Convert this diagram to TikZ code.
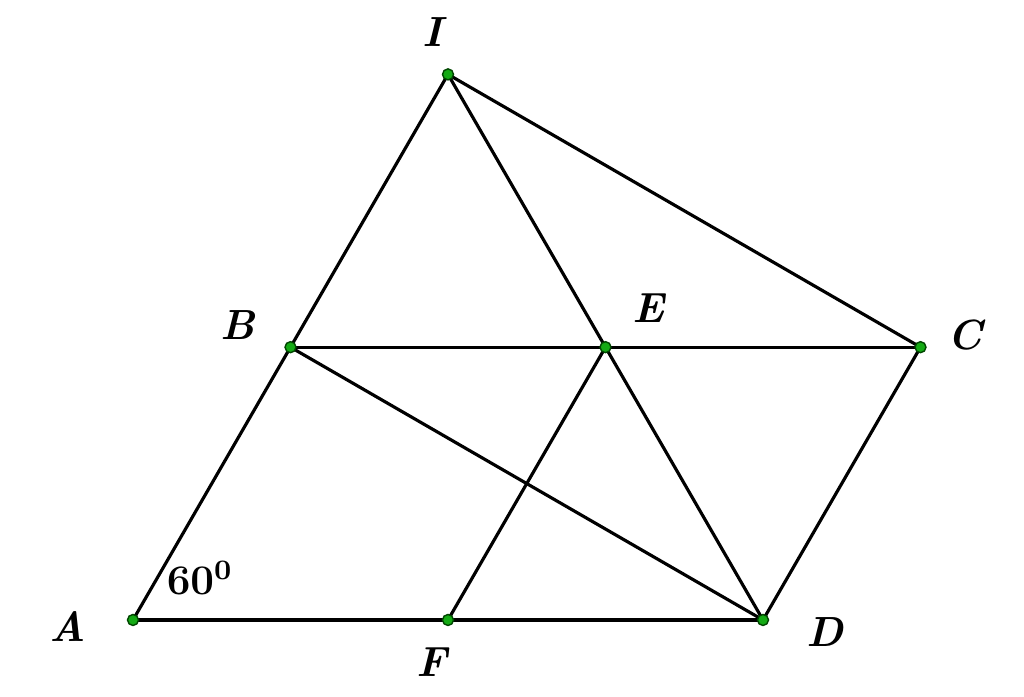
\documentclass[tikz,border=0pt]{standalone}
\usepackage{amsmath}
\usepackage{tikz}
\usetikzlibrary{positioning,calc}

\definecolor{ptgreen}{RGB}{20,170,20}
\definecolor{ptedge}{RGB}{0,70,0}

\tikzset{
	pt/.style={draw=ptedge,fill=ptgreen,circle,inner sep=0pt,minimum size=0.11cm,line width=0.4pt},
	lbl/.style={font=\large\bfseries\itshape,inner sep=0pt},
	seg/.style={line width=0.9pt,line cap=round}
}

\begin{document}
\begin{tikzpicture}
	\useasboundingbox (0,0) rectangle (10.24,6.97);
	\coordinate (A) at (1.33,0.77);
	\coordinate (B) at ($(A)+(60:3.15)$);
	\coordinate (D) at ($(A)+(6.30,0)$);
	\coordinate (C) at ($(B)+(6.30,0)$);
	\coordinate (I) at ($(B)+(60:3.15)$);
	\coordinate (E) at ($(B)!0.5!(C)$);
	\coordinate (F) at ($(A)!0.5!(D)$);
	\draw[seg] (A) -- (I);
	\draw[seg] (I) -- (D);
	\draw[seg] (I) -- (C);
	\draw[seg] (B) -- (C);
	\draw[seg] (B) -- (D);
	\draw[seg] (A) -- (D);
	\draw[seg] (C) -- (D);
	\draw[seg] (E) -- (F);
	\foreach \p in {A,B,C,D,E,F,I}
		\node[pt] (p\p) at (\p) {};
	\node[lbl] (lA) at (0.68,0.70) {A};
	\node[lbl] (lB) at (2.38,3.72) {B};
	\node[lbl] (lC) at (9.65,3.62) {C};
	\node[lbl] (lD) at (8.25,0.65) {D};
	\node[lbl] (lE) at (6.48,3.89) {E};
	\node[lbl] (lF) at (4.32,0.35) {F};
	\node[lbl] (lI) at (4.32,6.65) {I};
	\node[font=\large\bfseries,inner sep=0pt] (ang) at (2.00,1.19) {$\mathbf{60^0}$};
\end{tikzpicture}
\end{document}
